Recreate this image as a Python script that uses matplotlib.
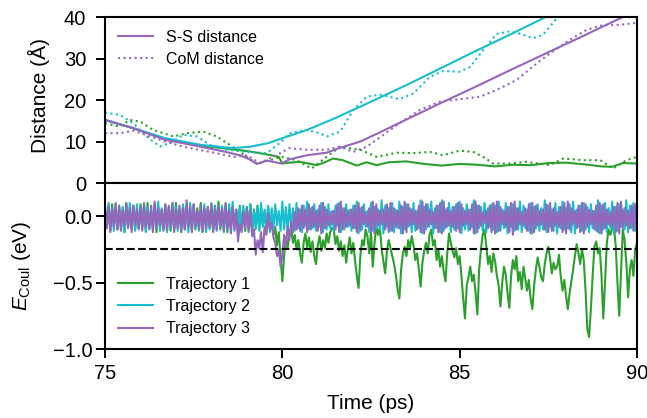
import numpy as np
import matplotlib
matplotlib.use("Agg")
import matplotlib.pyplot as plt

plt.rcParams['font.family'] = ['Liberation Sans', 'DejaVu Sans']
plt.rcParams['mathtext.fontset'] = 'custom'
plt.rcParams['mathtext.rm'] = 'Liberation Sans'
plt.rcParams['mathtext.it'] = 'Liberation Sans:italic'

GREEN = "#2ca02c"
CYAN = "#17becf"
PURPLE = "#9467bd"

# ---- top panel: distances (Angstrom) ----
t_ss1 = [75, 75.8, 76.7, 77.7, 78.6, 79.0, 79.5, 79.9, 80.0, 80.2, 80.5, 80.97, 81.2, 81.43, 81.7,
         82.1, 82.38, 82.66, 83.0, 83.5, 84.0, 84.5, 85.0, 85.5, 86.0, 86.5, 87.0, 87.5, 88.0,
         88.5, 89.0, 89.3, 89.6, 90.0]
d_ss1 = [15.2, 13.2, 10.6, 9.0, 8.1, 7.7, 7.0, 6.3, 4.7, 4.9, 5.1, 4.3, 5.0, 5.9, 5.5,
         4.2, 5.0, 4.3, 5.0, 5.2, 4.6, 4.2, 4.6, 4.4, 4.0, 4.4, 4.3, 4.8, 4.9,
         4.5, 4.0, 3.9, 4.8, 4.7]
t_ss2 = [75, 75.8, 76.7, 77.7, 78.6, 79.1, 79.6, 80.0, 80.7, 81.4, 82.2, 82.75, 83.5, 84.5,
         85.5, 86.5, 87.5, 88.0]
d_ss2 = [15.2, 13.2, 10.8, 9.2, 8.4, 8.75, 9.6, 10.8, 12.8, 15.3, 18.4, 20.6, 23.6, 27.8,
         32.0, 36.1, 40.3, 42.4]
t_ss3 = [75, 75.8, 76.7, 77.7, 78.4, 78.8, 79.05, 79.28, 79.56, 79.98, 80.2, 80.7, 81.25, 81.6,
         82.2, 82.75, 83.5, 84.5, 85.5, 86.5, 87.5, 88.5, 89.6, 90.0]
d_ss3 = [15.2, 13.2, 10.4, 8.75, 7.5, 6.7, 5.8, 4.6, 5.4, 4.7, 5.7, 6.7, 7.3, 8.4,
         10.0, 12.2, 15.3, 19.4, 23.4, 27.5, 31.5, 35.5, 40.0, 41.6]

t_com1 = [75, 75.42, 75.7, 75.99, 76.36, 76.93, 77.3, 77.77, 78.15, 78.6, 79.0, 79.28, 79.65,
          79.98, 80.4, 80.83, 81.25, 81.63, 82.2, 82.66, 83.22, 83.7, 84.16, 84.53, 85.0, 85.38,
          85.66, 85.95, 86.42, 86.89, 87.54, 87.92, 88.48, 88.96, 89.33, 89.7, 90.0]
d_com1 = [14.4, 13.6, 15.2, 14.8, 12.8, 11.2, 12.0, 12.4, 11.2, 8.75, 6.3, 4.7, 5.5,
          6.3, 5.5, 3.5, 6.3, 8.75, 8.0, 6.3, 7.3, 7.2, 7.5, 6.7, 7.8, 7.5,
          6.3, 4.7, 4.7, 5.1, 4.3, 5.9, 5.5, 5.5, 3.5, 5.5, 6.3]
t_com2 = [75, 75.42, 75.8, 76.17, 76.55, 76.83, 77.2, 77.6, 77.96, 78.43, 79.0, 79.56, 79.98,
          80.2, 80.69, 81.06, 81.25, 81.63, 82.0, 82.38, 82.75, 83.3, 83.7, 84.16, 84.53, 85.0,
          85.3, 85.66, 86.04, 86.4, 86.7, 87.07, 87.35, 87.7, 88.0]
d_com2 = [17.0, 16.4, 14.4, 11.2, 8.8, 9.6, 11.6, 11.2, 9.2, 8.0, 7.5, 7.2, 10.0,
          12.0, 12.8, 12.0, 11.2, 12.4, 17.6, 20.8, 21.3, 20.2, 21.6, 25.6, 27.0, 26.8,
          28.0, 32.0, 35.9, 36.5, 36.0, 34.9, 35.7, 39.3, 42.0]
t_com3 = [75, 75.42, 75.8, 76.55, 77.2, 77.96, 78.62, 79.0, 79.37, 79.74, 80.2, 80.7, 81.25,
          81.6, 82.0, 82.38, 82.75, 83.3, 83.88, 84.44, 85.0, 85.57, 86.04, 86.6, 87.17, 87.54,
          88.1, 88.58, 89.05, 89.5, 89.9, 90.0]
d_com3 = [12.0, 12.0, 12.6, 10.4, 8.75, 7.5, 6.3, 6.7, 4.8, 6.3, 8.4, 8.0, 8.0,
          8.75, 7.5, 8.75, 11.0, 14.4, 17.6, 19.6, 20.2, 20.8, 22.4, 24.8, 28.8, 31.2,
          34.5, 36.9, 38.1, 38.1, 38.5, 38.6]

# ---- bottom panel: Coulomb energy, every 0.05 ps from 75 to 90, in units of 0.01 eV ----
e_coul1 = [
    4, -9, 7, -11, 9, -6, 3, -10, 8, -8, 6, -12, 10, -7, 5, -9, 8, -10, 4, -7,
    9, -8, 6, -11, 10, -9, 4, -7, 8, -12, 7, -8, 5, -10, 9, -6, 6, -11, 8, -9,
    10, -7, 5, -12, 7, -9, 8, -6, 4, -11, 9, -10, 6, -8, 10, -12, 5, -7, 7, -9,
    6, -11, 8, -8, 11, -10, 5, -7, 9, -12, 6, -9, 7, -6, 4, -10, 8, -8, 5, -11,
    7, -9, 9, -12, 5, -8, 8, -10, 6, -7, 3, -11, 7, -9, -5, -14, -8, -22, -12, -30,
    -49, -30, -16, -24, -12, -9, -20, -14, -25, -18, -28, -35, -20, -13, -24, -16, -27, -19, -30, -36,
    -22, -15, -26, -18, -24, -13, -20, -12, -9, -10, -21, -15, -26, -19, -30, -22, -35, -24, -16, -28,
    -20, -33, -45, -54, -30, -18, -22, -10, -15, -28, -12, -38, -20, -8, -14, -8, -25, -34, -43, -26,
    -18, -24, -30, -36, -44, -55, -62, -40, -28, -23, -30, -18, -24, -15, -22, -33, -28, -40, -53, -35,
    -26, -20, -28, -14, -10, -22, -18, -33, -25, -38, -30, -42, -49, -28, -13, -20, -26, -31, -24, -36,
    -30, -45, -62, -77, -52, -46, -38, -49, -44, -58, -74, -40, -25, -14, -10, -22, -36, -30, -42, -28,
    -34, -45, -52, -68, -50, -38, -44, -58, -69, -45, -33, -40, -30, -49, -42, -55, -38, -47, -56, -48,
    -62, -70, -52, -40, -31, -38, -46, -49, -36, -28, -23, -32, -43, -35, -40, -38, -29, -45, -56, -48,
    -60, -70, -58, -49, -40, -30, -21, -28, -36, -25, -33, -56, -85, -91, -70, -45, -23, -19, -28, -24,
    -45, -77, -50, -20, -10, -14, -9, -8, -22, -50, -75, -42, -10, -18, -35, -61, -40, -33, -45, -25,
    -20]
e_coul2 = [
    8, -7, 10, -9, 6, -11, 9, -6, 4, -10, 7, -12, 8, -8, 10, -7, 5, -11, 9, -9,
    6, -8, 10, -12, 7, -9, 5, -10, 9, -7, 11, -11, 6, -8, 4, -12, 8, -9, 10, -10,
    7, -11, 5, -8, 9, -10, 6, -12, 10, -7, 8, -9, 4, -11, 7, -8, 9, -12, 6, -10,
    10, -9, 7, -11, 5, -8, 8, -12, 6, -10, 9, -7, 11, -11, 5, -9, 7, -10, 8, -8,
    6, -12, 9, -9, 4, -10, 7, -11, 10, -8, 5, -9, 8, -12, 6, -10, 9, -7, 4, -11,
    11, -10, 7, -12, 9, -8, 6, -11, 10, -9, 5, -12, 8, -7, 11, -10, 6, -9, 9, -11,
    5, -8, 10, -12, 7, -10, 9, -9, 4, -11, 8, -7, 10, -12, 6, -10, 9, -8, 5, -11,
    8, -9, 11, -13, 6, -10, 9, -8, 4, -12, 10, -11, 7, -9, 5, -10, 12, -13, 8, -8,
    6, -11, 10, -12, 5, -9, 11, -13, 7, -10, 9, -8, 6, -12, 10, -11, 4, -9, 12, -13,
    7, -10, 9, -8, 11, -13, 6, -9, 8, -12, 12, -11, 5, -8, 10, -12, 7, -10, 9, -9,
    11, -13, 6, -10, 9, -11, 5, -8, 12, -13, 8, -9, 7, -11, 10, -12, 6, -8, 9, -10,
    8, -12, 11, -11, 5, -9, 10, -13, 7, -8, 9, -11, 6, -10, 11, -12, 8, -9, 5, -11,
    10, -13, 7, -9, 9, -11, 6, -10, 12, -12, 8, -8, 5, -11, 10, -13, 7, -9, 11, -10,
    6, -9, 9, -12, 11, -13, 5, -8, 8, -11, 10, -10, 7, -12, 9, -9, 4, -11, 12, -13,
    8, -10, 10, -12, 6, -9, 11, -13, 7, -11, 9, -8, 5, -10, 12, -12, 8, -9, 10, -11,
    6]
e_coul3 = [
    6, -9, 8, -12, 5, -8, 10, -10, 7, -11, 4, -7, 9, -9, 6, -12, 8, -6, 5, -10,
    7, -11, 9, -8, 4, -10, 8, -12, 11, -9, 6, -7, 5, -11, 9, -10, 7, -8, 10, -12,
    5, -9, 8, -11, 6, -10, 12, -8, 7, -12, 9, -7, 4, -10, 8, -11, 6, -9, 7, -8,
    9, -12, 5, -10, 8, -7, 6, -11, 10, -9, 4, -13, 7, -10, 5, -19, -6, -12, 3, -9,
    6, -11, 4, -15, -10, -29, -18, -24, -12, -27, -8, -14, 2, -10, -5, -16, -20, -30, -26, -38,
    -30, -14, -23, -8, -18, -4, -12, 3, -10, 6, -11, 8, -9, 5, -12, 9, -10, 7, -8, 4,
    -11, 8, -13, 10, -9, 5, -7, 3, -6, 4, -10, 9, -12, 11, -10, 6, -8, 4, -7, 5,
    -9, 8, -12, 10, -11, 7, -6, 3, -8, 6, -12, 11, -13, 9, -7, 4, -6, 5, -10, 9,
    -12, 10, -11, 6, -8, 4, -9, 8, -13, 11, -12, 9, -7, 5, -6, 4, -10, 8, -12, 11,
    -13, 9, -8, 5, -6, 3, -9, 8, -12, 10, -13, 11, -9, 6, -7, 4, -8, 7, -11, 10,
    -12, 9, -7, 4, -6, 5, -10, 9, -13, 11, -12, 8, -7, 3, -5, 4, -9, 8, -12, 10,
    -13, 11, -11, 7, -6, 4, -8, 7, -12, 10, -14, 11, -10, 6, -6, 3, -7, 6, -11, 9,
    -13, 10, -12, 8, -7, 4, -6, 5, -10, 9, -12, 10, -11, 6, -7, 3, -8, 7, -12, 10,
    -13, 11, -10, 6, -6, 4, -9, 8, -12, 10, -13, 9, -8, 5, -6, 4, -10, 8, -12, 10,
    -13, 9, -9, 5, -6, 3, -8, 7, -12, 10, -13, 11, -9, 6, -7, 4, -9, 8, -11, 9,
    -10]
threshold = -0.25

t_e = 75 + 0.05 * np.arange(len(e_coul1))

fig = plt.figure(figsize=(6.47, 4.18), dpi=100)
ax1 = fig.add_axes([0.1623, 0.5622, 0.8222, 0.3971])
ax2 = fig.add_axes([0.1623, 0.165, 0.8222, 0.3972], sharex=ax1)

lw = 1.5
ax1.plot(t_ss1, d_ss1, color=GREEN, lw=lw)
ax1.plot(t_com1, d_com1, color=GREEN, lw=lw, ls=":")
ax1.plot(t_ss2, d_ss2, color=CYAN, lw=lw)
ax1.plot(t_com2, d_com2, color=CYAN, lw=lw, ls=":")
ax1.plot(t_ss3, d_ss3, color=PURPLE, lw=lw, label="S-S distance")
ax1.plot(t_com3, d_com3, color=PURPLE, lw=lw, ls=":", label="CoM distance")
ax1.set_ylim(0, 40)
ax1.set_yticks([0, 10, 20, 30, 40])
ax1.set_ylabel("Distance (Å)", fontsize=15)
ax1.yaxis.set_label_coords(-0.103, 0.53)
ax1.legend(loc="upper left", frameon=False, fontsize=11.5, handlelength=2.2,
           borderaxespad=0.4, labelspacing=0.45)
ax1.tick_params(axis="x", bottom=False, labelbottom=False)

ax2.plot(t_e, np.array(e_coul1) / 100, color=GREEN, lw=lw, label="Trajectory 1")
ax2.plot(t_e, np.array(e_coul2) / 100, color=CYAN, lw=lw, label="Trajectory 2")
ax2.plot(t_e, np.array(e_coul3) / 100, color=PURPLE, lw=lw, label="Trajectory 3")
ax2.axhline(threshold, color="black", lw=1.5, ls="--")
ax2.set_ylim(-1.0, 0.25)
ax2.set_yticks([-1.0, -0.5, 0.0])
ax2.set_yticklabels(["\u22121.0", "\u22120.5", "0.0"])
ax2.set_xlim(75, 90)
ax2.set_xticks([75, 80, 85, 90])
ax2.set_xlabel("Time (ps)", fontsize=15)
ax2.xaxis.set_label_coords(0.5, -0.27)
ax2.set_ylabel(r"$E_{\mathrm{Coul}}$ (eV)", fontsize=15)
ax2.yaxis.set_label_coords(-0.135, 0.5)
ax2.legend(loc="lower left", frameon=False, fontsize=11.5, handlelength=2.2,
           borderaxespad=0.4, labelspacing=0.45)

for ax in (ax1, ax2):
    for s in ax.spines.values():
        s.set_linewidth(1.5)
    ax.tick_params(direction="out", length=6.5, width=1.4, labelsize=14.5)
ax1.tick_params(axis="y", pad=7)
ax2.tick_params(axis="y", pad=2.5)
ax2.tick_params(axis="x", pad=4.5)

fig.savefig("out.png", dpi=100)
